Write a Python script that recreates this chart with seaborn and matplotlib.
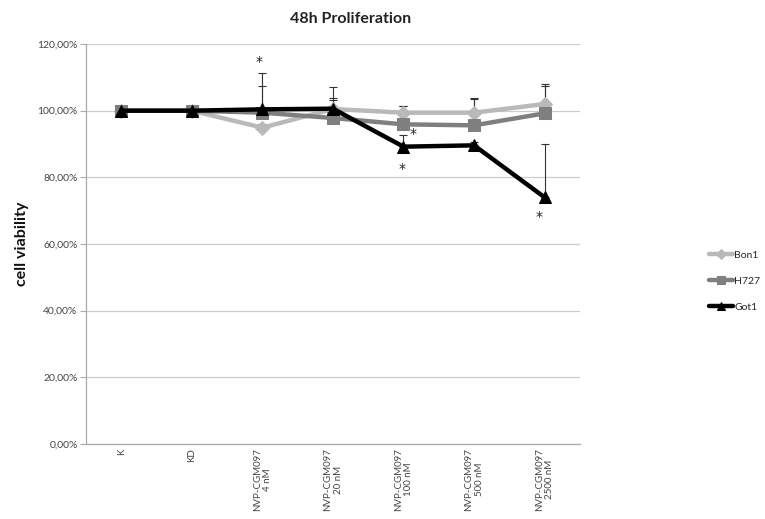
import matplotlib
matplotlib.use("Agg")
import matplotlib.pyplot as plt
import seaborn as sns
import pandas as pd
import numpy as np

categories = ["K", "KD", "NVP-CGM097\n4 nM", "NVP-CGM097\n20 nM", "NVP-CGM097\n100 nM",
              "NVP-CGM097\n500 nM", "NVP-CGM097\n2500 nM"]
series = ["Bon1", "H727", "Got1"]
bon1 = [100.0, 100.0, 94.9, 100.5, 99.4, 99.4, 102.0]
h727 = [100.0, 100.0, 99.4, 97.8, 95.9, 95.6, 99.2]
got1 = [100.0, 100.0, 100.4, 100.6, 89.2, 89.6, 74.0]
bon1_err = [0.0, 0.0, 1.0, 3.2, 2.0, 4.4, 6.0]
h727_err = [0.0, 0.0, 8.0, 5.3, 5.5, 8.0, 8.2]
got1_err = [0.0, 0.0, 10.8, 6.4, 3.6, 1.0, 16.0]
yticks = [0, 20, 40, 60, 80, 100, 120]
ytick_labels = ["0,00%", "20,00%", "40,00%", "60,00%", "80,00%", "100,00%", "120,00%"]
# significance asterisks: (category index, value)
star_pos = [(2, 114.5), (4, 93.0), (4, 82.5), (6, 68.0)]
star_dx = [-0.05, 0.13, -0.02, -0.08]

colors = {"Bon1": "#b9b9b9", "H727": "#7f7f7f", "Got1": "#000000"}
markers = {"Bon1": "D", "H727": "s", "Got1": "^"}
msize = {"Bon1": 7, "H727": 8, "Got1": 8}

vals = {"Bon1": bon1, "H727": h727, "Got1": got1}
errs = {"Bon1": bon1_err, "H727": h727_err, "Got1": got1_err}
df = pd.DataFrame({
    "x": np.tile(np.arange(len(categories)), len(series)),
    "value": bon1 + h727 + got1,
    "series": np.repeat(series, len(categories)),
})

sns.set_style("white")
plt.rcParams["font.family"] = ["Lato", "DejaVu Sans"]
fig = plt.figure(figsize=(7.65, 5.19), dpi=100)
ax = fig.add_axes([0.1124, 0.1445, 0.6456, 0.7707])

for s in series:
    d = df[df.series == s]
    sns.lineplot(data=d, x="x", y="value", ax=ax, color=colors[s], marker=markers[s],
                 markersize=msize[s], linewidth=3.2, markeredgecolor=colors[s],
                 label=s, legend=False, zorder={"Bon1": 3, "H727": 4, "Got1": 5}[s])
    x = np.arange(len(categories))
    ax.errorbar(x, vals[s], yerr=[np.zeros(len(x)), errs[s]], fmt="none",
                ecolor="#333333", elinewidth=0.8, capsize=3, capthick=0.8, zorder=2)

for (i, v), dx in zip(star_pos, star_dx):
    ax.text(i + dx, v, "*", ha="center", va="center", fontsize=10, color="#222222",
            family="DejaVu Sans")

ax.set_xlim(-0.5, len(categories) - 0.5)
ax.set_ylim(0, 120)
ax.set_yticks(yticks)
ax.set_yticklabels(ytick_labels, fontsize=7.5, color="#444444")
ax.set_xticks(np.arange(len(categories)))
ax.set_xticklabels(categories, rotation=90, fontsize=7, color="#444444", ha="center",
                   multialignment="center")
ax.set_xticks(np.arange(-0.5, len(categories)), minor=True)
ax.tick_params(axis="x", which="major", length=0, pad=3)
ax.tick_params(axis="x", which="minor", length=4, color="#aaaaaa", width=0.8)
ax.tick_params(axis="y", which="major", length=4, color="#aaaaaa", width=0.8, left=True, pad=2)
ax.yaxis.grid(True, color="#cccccc", linewidth=0.9)
ax.set_axisbelow(True)
for sp in ["top", "right"]:
    ax.spines[sp].set_visible(False)
for sp in ["left", "bottom"]:
    ax.spines[sp].set_color("#aaaaaa")
    ax.spines[sp].set_linewidth(0.9)

ax.set_xlabel("")
ax.set_ylabel("cell viability", fontsize=11.5, fontweight="bold", labelpad=6, color="#111111")
fig.text(0.458, 0.963, "48h Proliferation", ha="center", va="center", fontsize=11.5,
         fontweight="bold", color="#222222")

handles, labels = ax.get_legend_handles_labels()
leg = fig.legend(handles, labels, loc="upper left", bbox_to_anchor=(0.922, 0.525),
                 frameon=False, fontsize=7.5, handlelength=2.3, handletextpad=0.1,
                 labelspacing=1.6, borderaxespad=0, markerscale=0.8)

fig.savefig("out.png", dpi=100)
